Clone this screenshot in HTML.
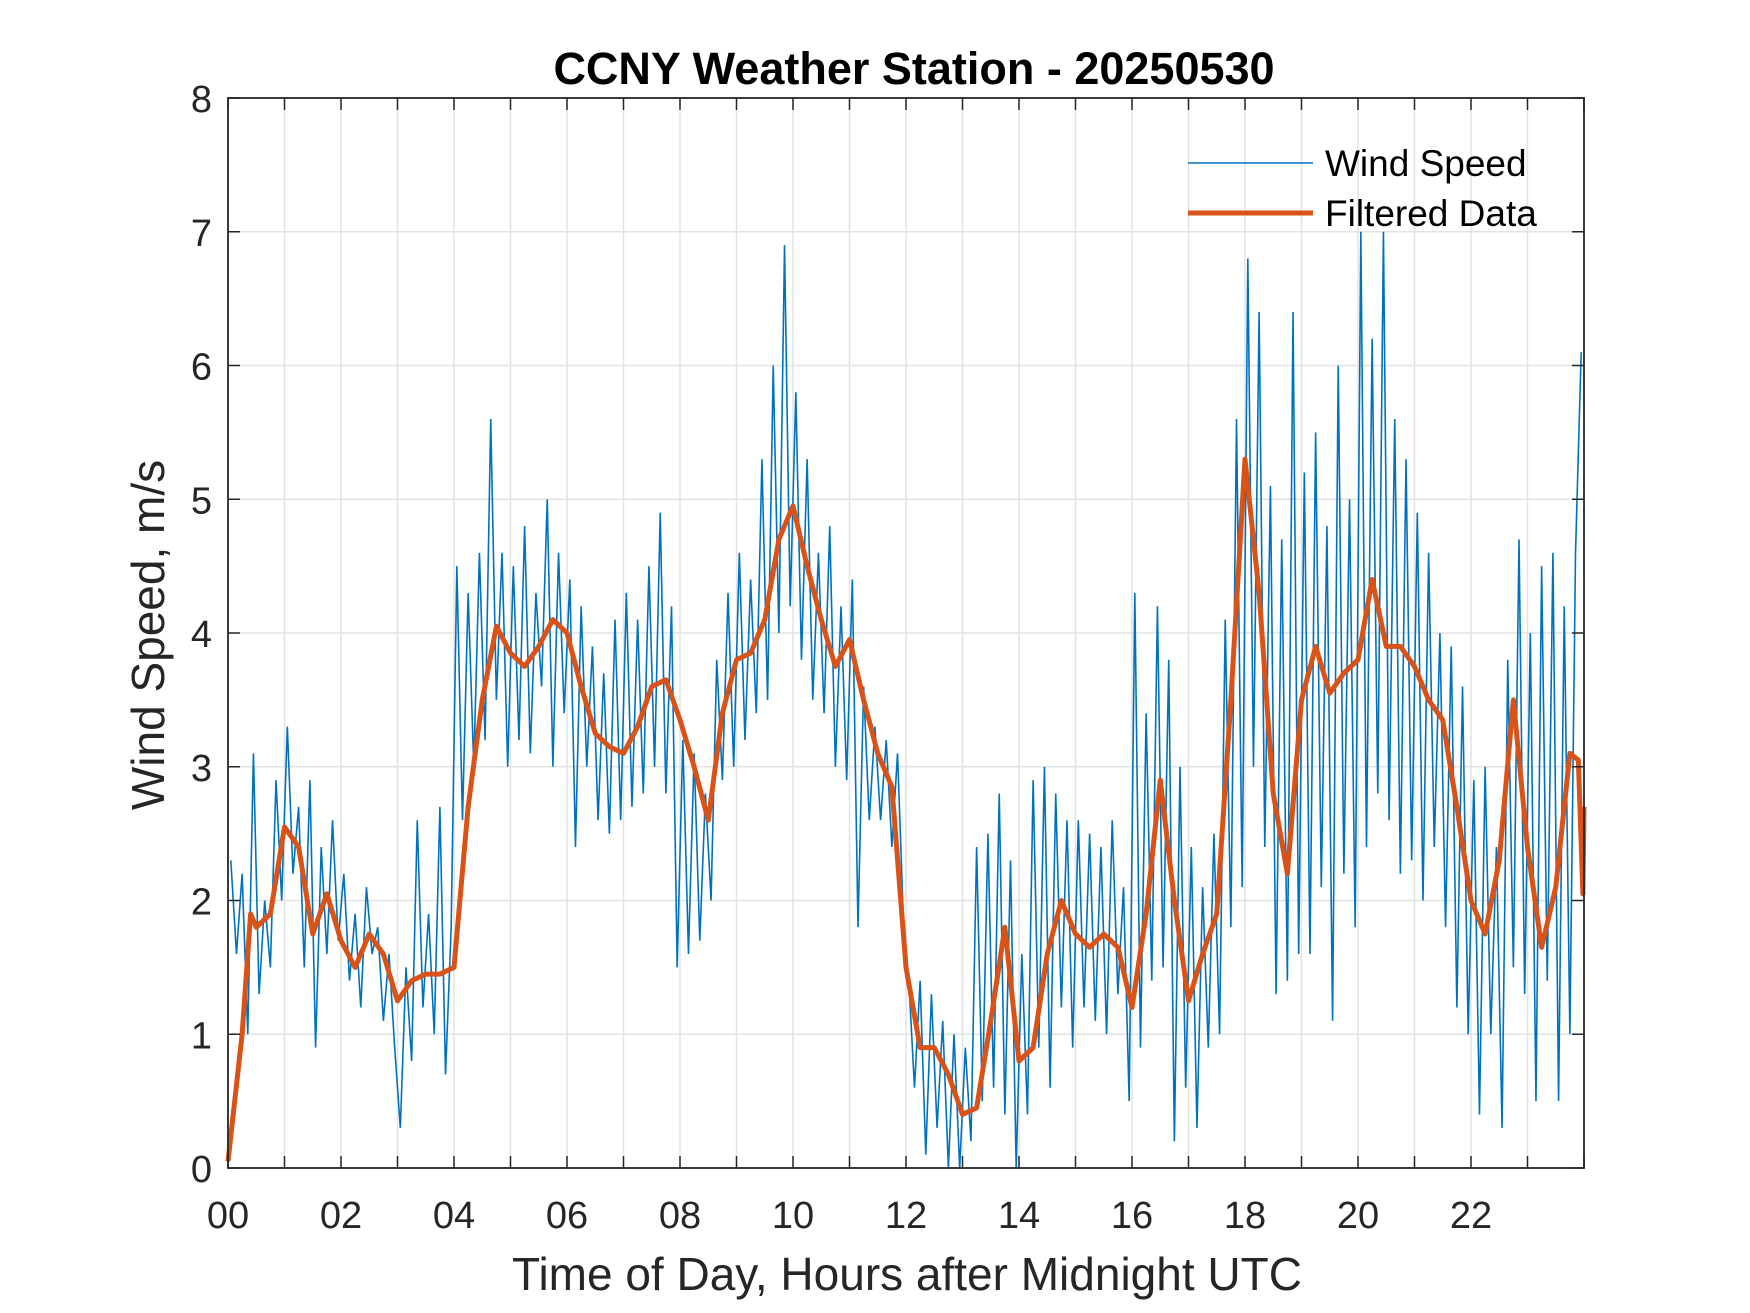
<!DOCTYPE html>
<html><head><meta charset="utf-8"><style>
body{margin:0;background:#fff;}
svg{display:block;font-family:"Liberation Sans",Arial,sans-serif;}
</style></head><body>
<svg id="chart" width="1750" height="1313" viewBox="0 0 1750 1313">
<rect width="1750" height="1313" fill="#fff"/>
<g id="grid"></g>
<g id="series"></g>
<g id="axes"></g>
<text x="914" y="84" text-anchor="middle" font-size="45" font-weight="bold" fill="#000">CCNY Weather Station - 20250530</text>
<text x="907" y="1290" text-anchor="middle" font-size="46" fill="#262626">Time of Day, Hours after Midnight UTC</text>
<text transform="translate(164,635) rotate(-90)" text-anchor="middle" font-size="46" fill="#262626">Wind Speed, m/s</text>
<g>
<line x1="1188" y1="163" x2="1313" y2="163" stroke="#0072BD" stroke-width="1.6"/>
<text x="1325" y="176" font-size="37" fill="#000">Wind Speed</text>
<line x1="1188" y1="213" x2="1313" y2="213" stroke="#D95319" stroke-width="5"/>
<text x="1325" y="226" font-size="37" fill="#000">Filtered Data</text>
</g>
</svg>
<script>
const rawValues=[
2.3,1.6,2.2,1.0,3.1,1.3,2.0,1.5,2.9,2.0,
3.3,2.2,2.7,1.5,2.9,0.9,2.4,1.6,2.6,1.7,
2.2,1.4,1.9,1.2,2.1,1.6,1.8,1.1,1.6,0.9,
0.3,1.5,0.8,2.6,1.2,1.9,1.0,2.7,0.7,1.8,
4.5,2.6,4.3,3.0,4.6,3.2,5.6,3.5,4.6,3.0,
4.5,3.2,4.8,3.1,4.3,3.6,5.0,3.0,4.6,3.4,
4.4,2.4,4.2,3.0,3.9,2.6,3.7,2.5,4.1,2.6,
4.3,2.7,4.1,2.8,4.5,3.0,4.9,2.8,4.2,1.5,
3.2,1.6,3.1,1.7,2.8,2.0,3.8,2.9,4.3,3.0,
4.6,3.2,4.4,3.4,5.3,3.5,6.0,4.0,6.9,4.2,
5.8,3.8,5.3,3.5,4.6,3.4,4.8,3.0,4.2,2.9,
4.4,1.8,3.6,2.6,3.3,2.6,3.2,2.4,3.1,1.9,
1.4,0.6,1.4,0.1,1.3,0.3,1.1,0.0,1.0,0.0,
0.9,0.2,2.4,0.5,2.5,0.6,2.8,0.4,2.3,0.0,
1.6,0.4,2.9,0.9,3.0,0.6,2.8,1.2,2.6,0.9,
2.6,1.2,2.5,1.1,2.4,1.0,2.6,1.3,2.1,0.5,
4.3,0.9,3.4,1.4,4.2,1.5,3.8,0.2,3.0,0.6,
2.4,0.3,2.1,0.9,2.5,1.0,4.1,1.8,5.6,2.1,
6.8,3.0,6.4,2.4,5.1,1.3,4.7,1.4,6.4,1.6,
5.2,1.6,5.5,2.1,4.8,1.1,6.0,2.2,5.0,1.8,
7.0,2.4,6.2,2.8,7.0,2.6,5.6,2.2,5.3,2.3,
4.9,2.0,4.6,2.4,4.0,1.8,3.9,1.2,3.6,1.0,
2.9,0.4,3.0,1.0,2.4,0.3,3.8,1.5,4.7,1.3,
4.0,0.5,4.5,1.4,4.6,0.5,4.2,1.0,4.6,6.1];
const rawStepHours=0.1;
const filtHours=[0,0.25,0.4,0.5,0.75,1,1.25,1.5,1.75,2,2.25,2.5,2.75,3,3.25,3.5,3.75,4,4.25,4.5,4.75,5,5.25,5.5,5.75,6,6.25,6.5,6.75,7,7.25,7.5,7.75,8,8.25,8.5,8.75,9,9.25,9.5,9.75,10,10.25,10.5,10.75,11,11.25,11.5,11.75,12,12.25,12.5,12.75,13,13.25,13.5,13.75,14,14.25,14.5,14.75,15,15.25,15.5,15.75,16,16.25,16.5,16.75,17,17.25,17.5,17.75,18,18.25,18.5,18.75,19,19.25,19.5,19.75,20,20.25,20.5,20.75,21,21.25,21.5,21.75,22,22.25,22.5,22.75,23,23.25,23.5,23.75,23.9,23.98,24];
const filtValues=[0.05,1.0,1.9,1.8,1.9,2.55,2.4,1.75,2.05,1.7,1.5,1.75,1.6,1.25,1.4,1.45,1.45,1.5,2.7,3.5,4.05,3.85,3.75,3.9,4.1,4.0,3.6,3.25,3.15,3.1,3.3,3.6,3.65,3.35,3.0,2.6,3.4,3.8,3.85,4.1,4.7,4.95,4.5,4.1,3.75,3.95,3.5,3.1,2.85,1.5,0.9,0.9,0.7,0.4,0.45,1.1,1.8,0.8,0.9,1.6,2.0,1.75,1.65,1.75,1.65,1.2,1.9,2.9,2.0,1.25,1.6,1.9,3.5,5.3,4.3,2.8,2.2,3.5,3.9,3.55,3.7,3.8,4.4,3.9,3.9,3.75,3.5,3.35,2.7,2.0,1.75,2.3,3.5,2.4,1.65,2.1,3.1,3.05,2.05,2.7];
const yTicks=[0,1,2,3,4,5,6,7,8];
const xTickLabels=["00","02","04","06","08","10","12","14","16","18","20","22"];

const L=228,R=1584,T=98,B=1168,NS="http://www.w3.org/2000/svg";
const xs=h=>L+(R-L)*h/24, ys=v=>B-(B-T)*v/8;
function mk(tag,attrs,parent){const e=document.createElementNS(NS,tag);for(const k in attrs)e.setAttribute(k,attrs[k]);parent.appendChild(e);return e;}
const grid=document.getElementById('grid'),axes=document.getElementById('axes'),series=document.getElementById('series');
for(let h=1;h<24;h++){
  const g=mk('line',{x1:xs(h),x2:xs(h),y1:T,y2:B,stroke:'#e3e3e3','stroke-width':1.5},grid);
  
  
}
yTicks.forEach(v=>{
  if(v>0&&v<8){const g=mk('line',{x1:L,x2:R,y1:ys(v),y2:ys(v),stroke:'#e3e3e3','stroke-width':1.5},grid);
  
  }
  const t=mk('text',{x:L-16,y:ys(v)+14,'text-anchor':'end','font-size':38,fill:'#262626'},axes);t.textContent=v;
  
  
  mk('line',{x1:L,x2:L+12,y1:ys(v),y2:ys(v),stroke:'#262626','stroke-width':1.5},axes);
  mk('line',{x1:R,x2:R-12,y1:ys(v),y2:ys(v),stroke:'#262626','stroke-width':1.5},axes);
});
for(let h=0;h<=24;h++){
  mk('line',{x1:xs(h),x2:xs(h),y1:B,y2:B-12,stroke:'#262626','stroke-width':1.5},axes);
  mk('line',{x1:xs(h),x2:xs(h),y1:T,y2:T+12,stroke:'#262626','stroke-width':1.5},axes);
}
xTickLabels.forEach((s,i)=>{
  const t=mk('text',{x:xs(i*2),y:B+60,'text-anchor':'middle','font-size':38,fill:'#262626'},axes);t.textContent=s;
  
  
});
const fr=mk('rect',{x:L,y:T,width:R-L,height:B-T,fill:'none',stroke:'#262626','stroke-width':1.8},axes);


const rawPts=rawValues.map((v,i)=>xs(Math.min(24,i*rawStepHours+0.05))+','+ys(v)).join(' ');
const rl=mk('polyline',{points:rawPts,fill:'none',stroke:'#0072BD','stroke-width':1.6},series);


const fPts=filtValues.map((v,i)=>xs(filtHours[i])+','+ys(v)).join(' ');
const fl=mk('polyline',{points:fPts,fill:'none',stroke:'#D95319','stroke-width':5,'stroke-linejoin':'round'},series);


</script>
</body></html>
